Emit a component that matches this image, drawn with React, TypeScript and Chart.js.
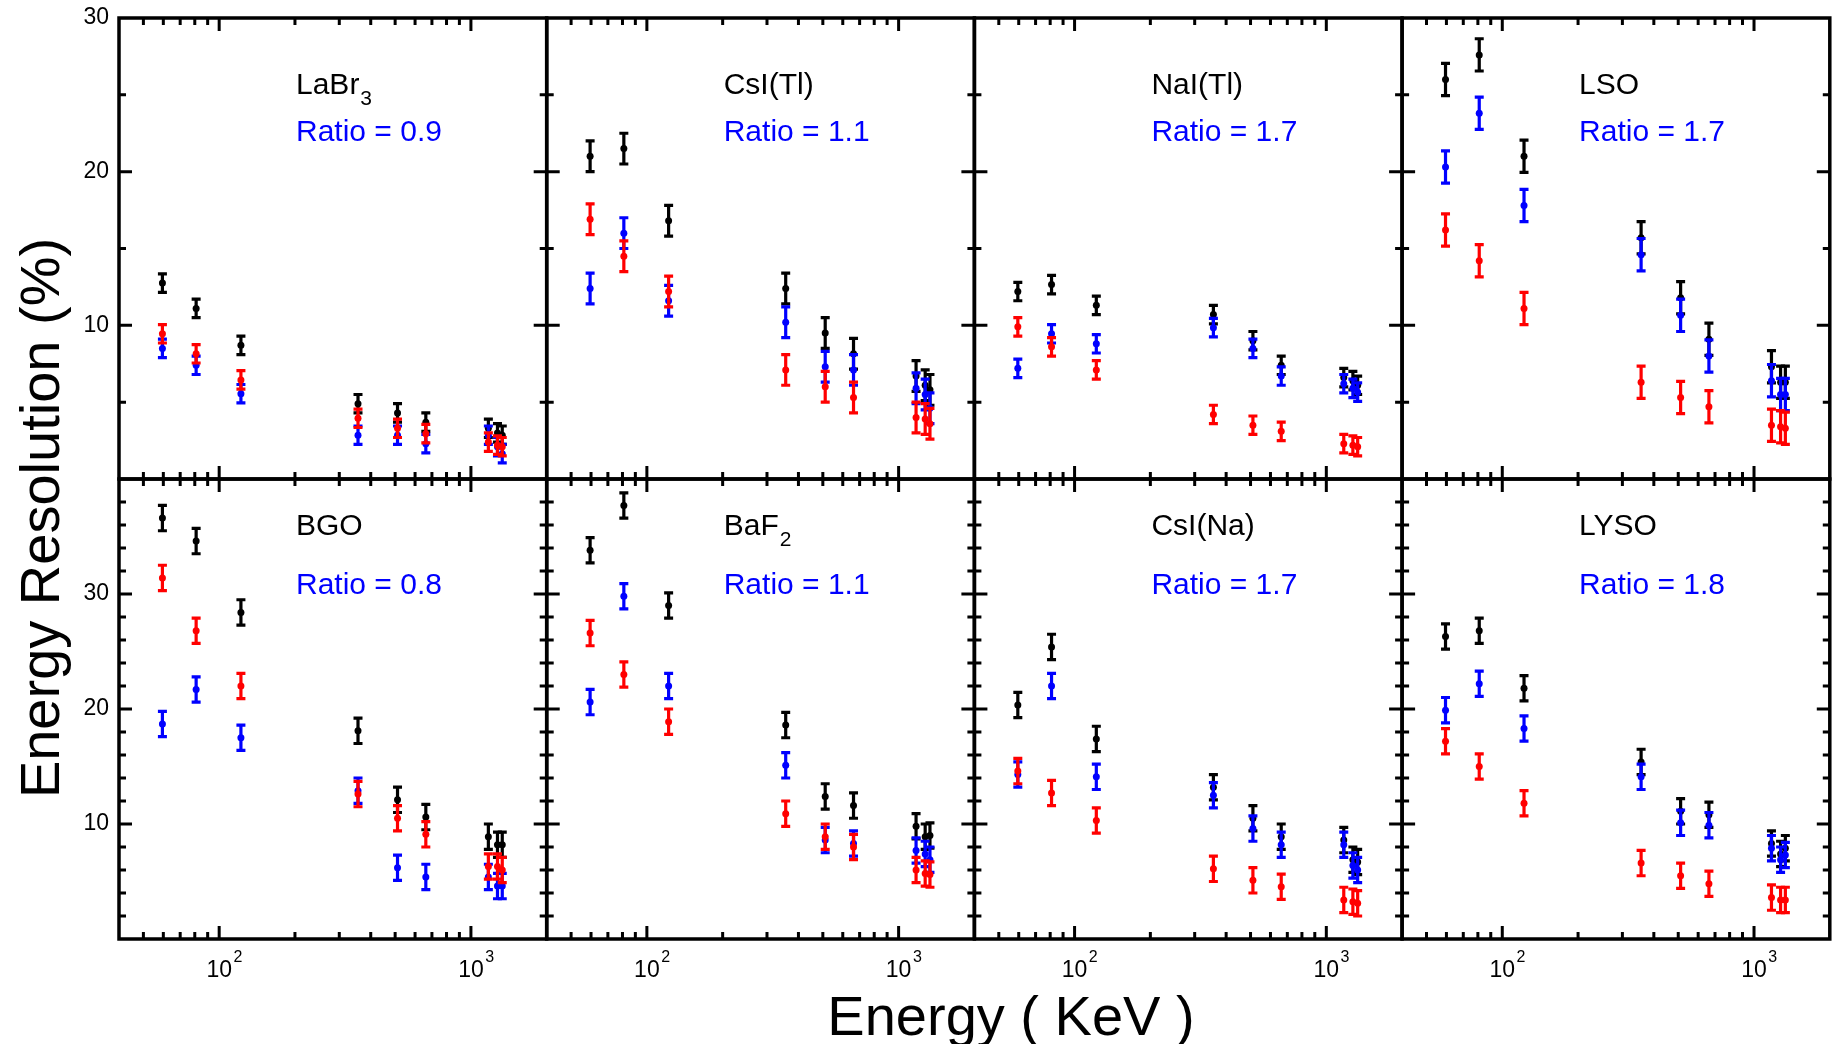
import React, { useEffect, useRef } from "react";
import { Chart, registerables } from "chart.js";

Chart.register(...registerables);

const FONT = "'Liberation Sans', Arial, Helvetica, sans-serif";
const PAGE_W = 1835;
const PAGE_H = 1044;

// ---------- data ----------
const energies = [59.5, 81, 122, 356, 511, 662, 1173, 1275, 1332];

const labr3Black = [12.75, 11.1, 8.7, 4.9, 4.3, 3.7, 3.3, 3.0, 2.85];
const labr3Red = [9.45, 8.15, 6.45, 3.95, 3.3, 2.95, 2.4, 2.2, 2.1];
const labr3Blue = [8.5, 7.4, 5.55, 2.85, 2.85, 2.3, 2.85, 2.1, 1.65];

const csiTlBlack = [21.0, 21.5, 16.8, 12.4, 9.5, 8.15, 6.7, 6.1, 5.8];
const csiTlRed = [16.9, 14.5, 12.2, 7.1, 6.0, 5.3, 4.0, 3.9, 3.6];
const csiTlBlue = [12.4, 16.0, 11.6, 10.2, 7.3, 7.1, 5.9, 5.5, 4.6];

const naiTlBlack = [12.2, 12.65, 11.3, 10.7, 9.0, 7.4, 6.6, 6.4, 6.1];
const naiTlRed = [9.9, 8.6, 7.1, 4.2, 3.5, 3.1, 2.3, 2.2, 2.1];
const naiTlBlue = [7.2, 9.45, 8.8, 9.85, 8.5, 6.7, 6.2, 5.9, 5.65];

const lsoBlack = [26.0, 27.6, 21.0, 15.7, 11.8, 9.1, 7.3, 6.3, 6.3];
const lsoRed = [16.2, 14.2, 11.1, 6.3, 5.3, 4.7, 3.5, 3.4, 3.3];
const lsoBlue = [20.3, 23.8, 17.8, 14.6, 10.65, 8.0, 6.4, 5.5, 5.5];

const bgoBlack = [36.6, 34.6, 28.4, 18.1, 12.1, 10.6, 8.9, 8.2, 8.2];
const bgoRed = [31.4, 26.8, 22.0, 12.6, 10.5, 9.1, 6.3, 6.3, 6.0];
const bgoBlue = [18.7, 21.7, 17.5, 12.9, 6.2, 5.4, 5.4, 4.6, 4.6];

const baf2Black = [33.8, 37.7, 29.0, 18.6, 12.4, 11.6, 9.8, 8.9, 9.0];
const baf2Red = [26.6, 23.0, 18.9, 10.9, 8.9, 8.0, 6.0, 5.7, 5.6];
const baf2Blue = [20.6, 29.8, 22.0, 15.1, 8.6, 8.3, 7.7, 7.4, 6.9];

const csiNaBlack = [20.35, 25.4, 17.4, 13.2, 10.5, 8.9, 8.6, 6.9, 6.7];
const csiNaRed = [14.6, 12.7, 10.3, 6.1, 5.1, 4.55, 3.4, 3.25, 3.1];
const csiNaBlue = [14.3, 22.0, 14.1, 12.5, 9.6, 8.2, 8.2, 6.4, 6.0];

const lysoBlack = [26.3, 26.8, 21.8, 15.4, 11.1, 10.8, 8.3, 7.4, 7.9];
const lysoRed = [17.2, 15.0, 11.8, 6.6, 5.5, 4.8, 3.6, 3.4, 3.4];
const lysoBlue = [19.9, 22.2, 18.3, 14.1, 10.1, 9.9, 7.9, 6.9, 7.3];

const panelNames = ["LaBr", "CsI(Tl)", "NaI(Tl)", "LSO", "BGO", "BaF", "CsI(Na)", "LYSO"];
const panelSubscripts = ["3", "", "", "", "", "2", "", ""];
const panelRatios = [0.9, 1.1, 1.7, 1.7, 0.8, 1.1, 1.7, 1.8];
const panelErrors = [0.6, 1.0, 0.6, 1.05, 1.1, 1.1, 1.1, 1.1];
const blackSeries = [labr3Black, csiTlBlack, naiTlBlack, lsoBlack, bgoBlack, baf2Black, csiNaBlack, lysoBlack];
const redSeries = [labr3Red, csiTlRed, naiTlRed, lsoRed, bgoRed, baf2Red, csiNaRed, lysoRed];
const blueSeries = [labr3Blue, csiTlBlue, naiTlBlue, lsoBlue, bgoBlue, baf2Blue, csiNaBlue, lysoBlue];

// axes
const xMin = 40;
const xMax = 2000;
const xMajorTicks = [100, 1000];
const xTickExponents = ["2", "3"];
const xMinorTicks = [50, 60, 70, 80, 90, 200, 300, 400, 500, 600, 700, 800, 900];
const yMaxByRow = [30, 40];
const yMinorStepByRow = [5, 2];
const yMajorStep = 10;
const yTickLabels = [10, 20, 30];

const xTitle = "Energy ( KeV )";
const yTitle = "Energy Resolution (%)";

// ---------- layout ----------
const gridLeft = 119;
const panelW = 427.7;
const rowTop = [18, 479];
const rowBottom = [479, 939];
const titleBaselineByRow = [76, 56];
const ratioBaselineByRow = [122.5, 115];

const COLORS = { black: "#000000", red: "#ff0000", blue: "#0000ff" };

const errorBarPlugin = {
  id: "errorBars",
  beforeDatasetDraw(chart: any, args: any) {
    const ds = chart.data.datasets[args.index];
    const xs = chart.scales.x;
    const ys = chart.scales.y;
    const ctx = chart.ctx;
    ctx.save();
    ctx.strokeStyle = ds.backgroundColor;
    ctx.lineWidth = 3.2;
    ds.data.forEach((p: any) => {
      const px = xs.getPixelForValue(p.x);
      const y1 = ys.getPixelForValue(p.y - p.err);
      const y2 = ys.getPixelForValue(p.y + p.err);
      ctx.beginPath();
      ctx.moveTo(px, y1);
      ctx.lineTo(px, y2);
      ctx.moveTo(px - 4.5, y1);
      ctx.lineTo(px + 4.5, y1);
      ctx.moveTo(px - 4.5, y2);
      ctx.lineTo(px + 4.5, y2);
      ctx.stroke();
    });
    ctx.restore();
  },
};

function makeFramePlugin(idx: number) {
  const row = Math.floor(idx / 4);
  const col = idx % 4;
  return {
    id: "frame" + idx,
    afterDraw(chart: any) {
      const ctx = chart.ctx;
      const { left, right, top, bottom } = chart.chartArea;
      const xs = chart.scales.x;
      const ys = chart.scales.y;
      const yMax = yMaxByRow[row];
      const step = yMinorStepByRow[row];
      ctx.save();
      ctx.strokeStyle = "#000";
      // ticks
      ctx.lineWidth = 3;
      ctx.beginPath();
      xMajorTicks.forEach((v) => {
        const px = xs.getPixelForValue(v);
        ctx.moveTo(px, bottom);
        ctx.lineTo(px, bottom - 13);
        ctx.moveTo(px, top);
        ctx.lineTo(px, top + 13);
      });
      xMinorTicks.forEach((v) => {
        const px = xs.getPixelForValue(v);
        ctx.moveTo(px, bottom);
        ctx.lineTo(px, bottom - 7);
        ctx.moveTo(px, top);
        ctx.lineTo(px, top + 7);
      });
      for (let v = step; v < yMax; v += step) {
        const py = ys.getPixelForValue(v);
        const len = v % yMajorStep === 0 ? 13 : 7;
        ctx.moveTo(left, py);
        ctx.lineTo(left + len, py);
        ctx.moveTo(right, py);
        ctx.lineTo(right - len, py);
      }
      ctx.stroke();
      // frame
      ctx.lineWidth = 3.5;
      ctx.strokeRect(left, top, right - left, bottom - top);

      // y tick labels
      ctx.fillStyle = "#000";
      if (col === 0) {
        ctx.font = `23px ${FONT}`;
        ctx.textAlign = "right";
        ctx.textBaseline = "middle";
        yTickLabels.forEach((v) => {
          ctx.fillText(String(v), left - 10, ys.getPixelForValue(v));
        });
      }
      // x tick labels
      if (row === 1) {
        ctx.textBaseline = "alphabetic";
        xMajorTicks.forEach((v, i) => {
          const px = xs.getPixelForValue(v);
          ctx.font = `23px ${FONT}`;
          ctx.textAlign = "center";
          ctx.fillText("10", px, bottom + 38);
          const w = ctx.measureText("10").width;
          ctx.font = `16px ${FONT}`;
          ctx.textAlign = "left";
          ctx.fillText(xTickExponents[i], px + w / 2 + 1.5, bottom + 23);
        });
      }

      // panel title and ratio
      const tx = left + 177;
      ctx.textAlign = "left";
      ctx.textBaseline = "alphabetic";
      ctx.font = `30px ${FONT}`;
      ctx.fillStyle = "#000";
      const name = panelNames[idx];
      ctx.fillText(name, tx, top + titleBaselineByRow[row]);
      const sub = panelSubscripts[idx];
      if (sub) {
        const w = ctx.measureText(name).width;
        ctx.font = `21px ${FONT}`;
        ctx.fillText(sub, tx + w + 1, top + titleBaselineByRow[row] + 11);
      }
      ctx.font = `30px ${FONT}`;
      ctx.fillStyle = COLORS.blue;
      ctx.fillText(`Ratio = ${panelRatios[idx].toFixed(1)}`, tx, top + ratioBaselineByRow[row]);

      // shared axis titles (drawn once)
      if (idx === 0) {
        ctx.fillStyle = "#000";
        ctx.font = `56px ${FONT}`;
        ctx.textAlign = "center";
        ctx.textBaseline = "alphabetic";
        ctx.fillText(xTitle, 1011, 1035);
        ctx.save();
        ctx.translate(59, 518);
        ctx.rotate(-Math.PI / 2);
        ctx.fillText(yTitle, 0, 0);
        ctx.restore();
      }
      ctx.restore();
    },
  };
}

function Panel({ idx }: { idx: number }) {
  const ref = useRef<HTMLCanvasElement | null>(null);
  useEffect(() => {
    if (!ref.current) return;
    const row = Math.floor(idx / 4);
    const col = idx % 4;
    const left = gridLeft + col * panelW;
    const right = left + panelW;
    const mk = (vals: number[], color: string, label: string) => ({
      label,
      data: energies.map((e, i) => ({ x: e, y: vals[i], err: panelErrors[idx] })),
      backgroundColor: color,
      borderColor: color,
      pointRadius: 3.5,
      pointBorderWidth: 0,
      showLine: false,
    });
    const chart = new Chart(ref.current, {
      type: "scatter",
      data: {
        datasets: [
          mk(redSeries[idx], COLORS.red, "red"),
          mk(blueSeries[idx], COLORS.blue, "blue"),
          mk(blackSeries[idx], COLORS.black, "black"),
        ],
      },
      options: {
        animation: false,
        responsive: false,
        maintainAspectRatio: false,
        events: [],
        layout: {
          padding: {
            left,
            right: PAGE_W - right,
            top: rowTop[row],
            bottom: PAGE_H - rowBottom[row],
          },
        },
        scales: {
          x: { type: "logarithmic", min: xMin, max: xMax, display: false },
          y: { type: "linear", min: 0, max: yMaxByRow[row], display: false },
        },
        plugins: {
          legend: { display: false },
          tooltip: { enabled: false },
        },
      } as any,
      plugins: [errorBarPlugin, makeFramePlugin(idx)],
    });
    return () => chart.destroy();
  }, [idx]);
  return (
    <canvas
      ref={ref}
      width={PAGE_W}
      height={PAGE_H}
      style={{ position: "absolute", left: 0, top: 0, width: PAGE_W, height: PAGE_H }}
    />
  );
}

export default function App() {
  return (
    <div
      style={{
        position: "absolute",
        left: 0,
        top: 0,
        width: PAGE_W,
        height: PAGE_H,
        background: "#ffffff",
        overflow: "hidden",
      }}
    >
      {panelNames.map((_, i) => (
        <Panel key={i} idx={i} />
      ))}
    </div>
  );
}
